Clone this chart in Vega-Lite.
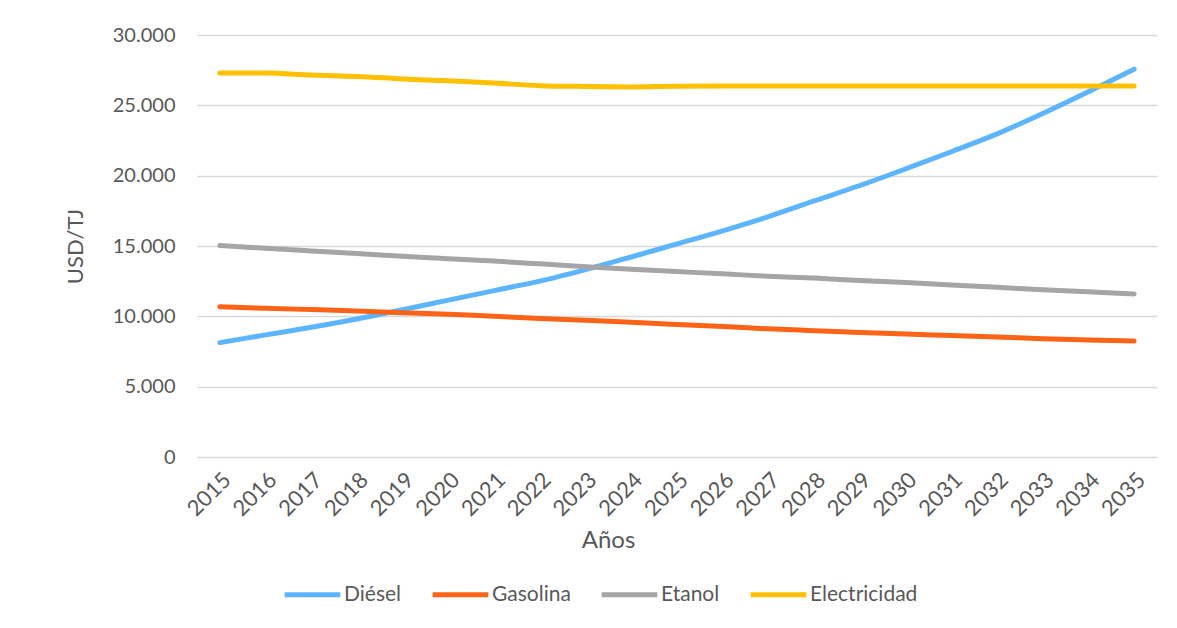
{
  "$schema": "https://vega.github.io/schema/vega-lite/v6.json",
  "autosize": "none",
  "width": 960,
  "height": 422,
  "padding": {"left": 197, "top": 35, "right": 20, "bottom": 171},
  "background": "white",
  "config": {
    "view": {"stroke": null},
    "font": "Lato",
    "axis": {"labelFont": "Lato", "titleFont": "Lato", "labelColor": "#595959", "titleColor": "#595959", "labelFontSize": 20, "titleFontSize": 22, "titleFontWeight": "normal", "gridColor": "#D9D9D9", "gridWidth": 1.3, "domain": false, "ticks": false},
    "legend": {"labelFont": "Lato", "labelFontSize": 21, "labelColor": "#595959"}
  },
  "data": {
    "values": [
      {"year": "2015", "series": "Diésel", "value": 8130},
      {"year": "2016", "series": "Diésel", "value": 8680},
      {"year": "2017", "series": "Diésel", "value": 9220},
      {"year": "2018", "series": "Diésel", "value": 9810},
      {"year": "2019", "series": "Diésel", "value": 10480},
      {"year": "2020", "series": "Diésel", "value": 11150},
      {"year": "2021", "series": "Diésel", "value": 11830},
      {"year": "2022", "series": "Diésel", "value": 12500},
      {"year": "2023", "series": "Diésel", "value": 13320},
      {"year": "2024", "series": "Diésel", "value": 14220},
      {"year": "2025", "series": "Diésel", "value": 15150},
      {"year": "2026", "series": "Diésel", "value": 16080},
      {"year": "2027", "series": "Diésel", "value": 17090},
      {"year": "2028", "series": "Diésel", "value": 18200},
      {"year": "2029", "series": "Diésel", "value": 19300},
      {"year": "2030", "series": "Diésel", "value": 20480},
      {"year": "2031", "series": "Diésel", "value": 21700},
      {"year": "2032", "series": "Diésel", "value": 22970},
      {"year": "2033", "series": "Diésel", "value": 24420},
      {"year": "2034", "series": "Diésel", "value": 25970},
      {"year": "2035", "series": "Diésel", "value": 27570},
      {"year": "2015", "series": "Gasolina", "value": 10690},
      {"year": "2016", "series": "Gasolina", "value": 10570},
      {"year": "2017", "series": "Gasolina", "value": 10480},
      {"year": "2018", "series": "Gasolina", "value": 10380},
      {"year": "2019", "series": "Gasolina", "value": 10260},
      {"year": "2020", "series": "Gasolina", "value": 10150},
      {"year": "2021", "series": "Gasolina", "value": 10000},
      {"year": "2022", "series": "Gasolina", "value": 9850},
      {"year": "2023", "series": "Gasolina", "value": 9720},
      {"year": "2024", "series": "Gasolina", "value": 9580},
      {"year": "2025", "series": "Gasolina", "value": 9420},
      {"year": "2026", "series": "Gasolina", "value": 9270},
      {"year": "2027", "series": "Gasolina", "value": 9110},
      {"year": "2028", "series": "Gasolina", "value": 8980},
      {"year": "2029", "series": "Gasolina", "value": 8850},
      {"year": "2030", "series": "Gasolina", "value": 8750},
      {"year": "2031", "series": "Gasolina", "value": 8630},
      {"year": "2032", "series": "Gasolina", "value": 8530},
      {"year": "2033", "series": "Gasolina", "value": 8410},
      {"year": "2034", "series": "Gasolina", "value": 8320},
      {"year": "2035", "series": "Gasolina", "value": 8240},
      {"year": "2015", "series": "Etanol", "value": 15030},
      {"year": "2016", "series": "Etanol", "value": 14840},
      {"year": "2017", "series": "Etanol", "value": 14650},
      {"year": "2018", "series": "Etanol", "value": 14460},
      {"year": "2019", "series": "Etanol", "value": 14270},
      {"year": "2020", "series": "Etanol", "value": 14100},
      {"year": "2021", "series": "Etanol", "value": 13930},
      {"year": "2022", "series": "Etanol", "value": 13730},
      {"year": "2023", "series": "Etanol", "value": 13520},
      {"year": "2024", "series": "Etanol", "value": 13340},
      {"year": "2025", "series": "Etanol", "value": 13180},
      {"year": "2026", "series": "Etanol", "value": 13020},
      {"year": "2027", "series": "Etanol", "value": 12850},
      {"year": "2028", "series": "Etanol", "value": 12720},
      {"year": "2029", "series": "Etanol", "value": 12550},
      {"year": "2030", "series": "Etanol", "value": 12400},
      {"year": "2031", "series": "Etanol", "value": 12230},
      {"year": "2032", "series": "Etanol", "value": 12070},
      {"year": "2033", "series": "Etanol", "value": 11890},
      {"year": "2034", "series": "Etanol", "value": 11740},
      {"year": "2035", "series": "Etanol", "value": 11590},
      {"year": "2015", "series": "Electricidad", "value": 27300},
      {"year": "2016", "series": "Electricidad", "value": 27300},
      {"year": "2017", "series": "Electricidad", "value": 27150},
      {"year": "2018", "series": "Electricidad", "value": 27050},
      {"year": "2019", "series": "Electricidad", "value": 26880},
      {"year": "2020", "series": "Electricidad", "value": 26740},
      {"year": "2021", "series": "Electricidad", "value": 26580},
      {"year": "2022", "series": "Electricidad", "value": 26400},
      {"year": "2023", "series": "Electricidad", "value": 26340},
      {"year": "2024", "series": "Electricidad", "value": 26310},
      {"year": "2025", "series": "Electricidad", "value": 26360},
      {"year": "2026", "series": "Electricidad", "value": 26370},
      {"year": "2027", "series": "Electricidad", "value": 26370},
      {"year": "2028", "series": "Electricidad", "value": 26370},
      {"year": "2029", "series": "Electricidad", "value": 26370},
      {"year": "2030", "series": "Electricidad", "value": 26370},
      {"year": "2031", "series": "Electricidad", "value": 26370},
      {"year": "2032", "series": "Electricidad", "value": 26370},
      {"year": "2033", "series": "Electricidad", "value": 26370},
      {"year": "2034", "series": "Electricidad", "value": 26370},
      {"year": "2035", "series": "Electricidad", "value": 26370}
    ]
  },
  "mark": {"type": "line", "strokeWidth": 5, "strokeCap": "round", "strokeJoin": "round", "interpolate": "monotone"},
  "encoding": {
    "x": {
      "field": "year", "type": "ordinal",
      "scale": {"type": "point", "padding": 0.5},
      "axis": {"title": "Años", "labelAngle": -45, "labelFontSize": 22, "labelPadding": 12, "grid": false, "titleFontSize": 24, "titleX": 411, "titleY": 83, "titleBaseline": "middle", "titleAnchor": "middle"}
    },
    "y": {
      "field": "value", "type": "quantitative",
      "scale": {"domain": [0, 30000], "nice": false},
      "axis": {"title": "USD/TJ", "values": [0, 5000, 10000, 15000, 20000, 25000, 30000], "labelExpr": "replace(format(datum.value, ','), ',', '.')", "labelPadding": 22, "titleX": -122, "titleBaseline": "middle"}
    },
    "color": {
      "field": "series", "type": "nominal",
      "scale": {"domain": ["Diésel", "Gasolina", "Etanol", "Electricidad"], "range": ["#5DB5FF", "#FB6316", "#A5A5A5", "#FFC000"]},
      "legend": {"title": null, "orient": "none", "direction": "horizontal", "legendX": 85, "legendY": 529, "symbolType": "stroke", "symbolSize": 3100, "symbolStrokeWidth": 5, "labelOffset": 1, "columnPadding": 20}
    }
  }
}
